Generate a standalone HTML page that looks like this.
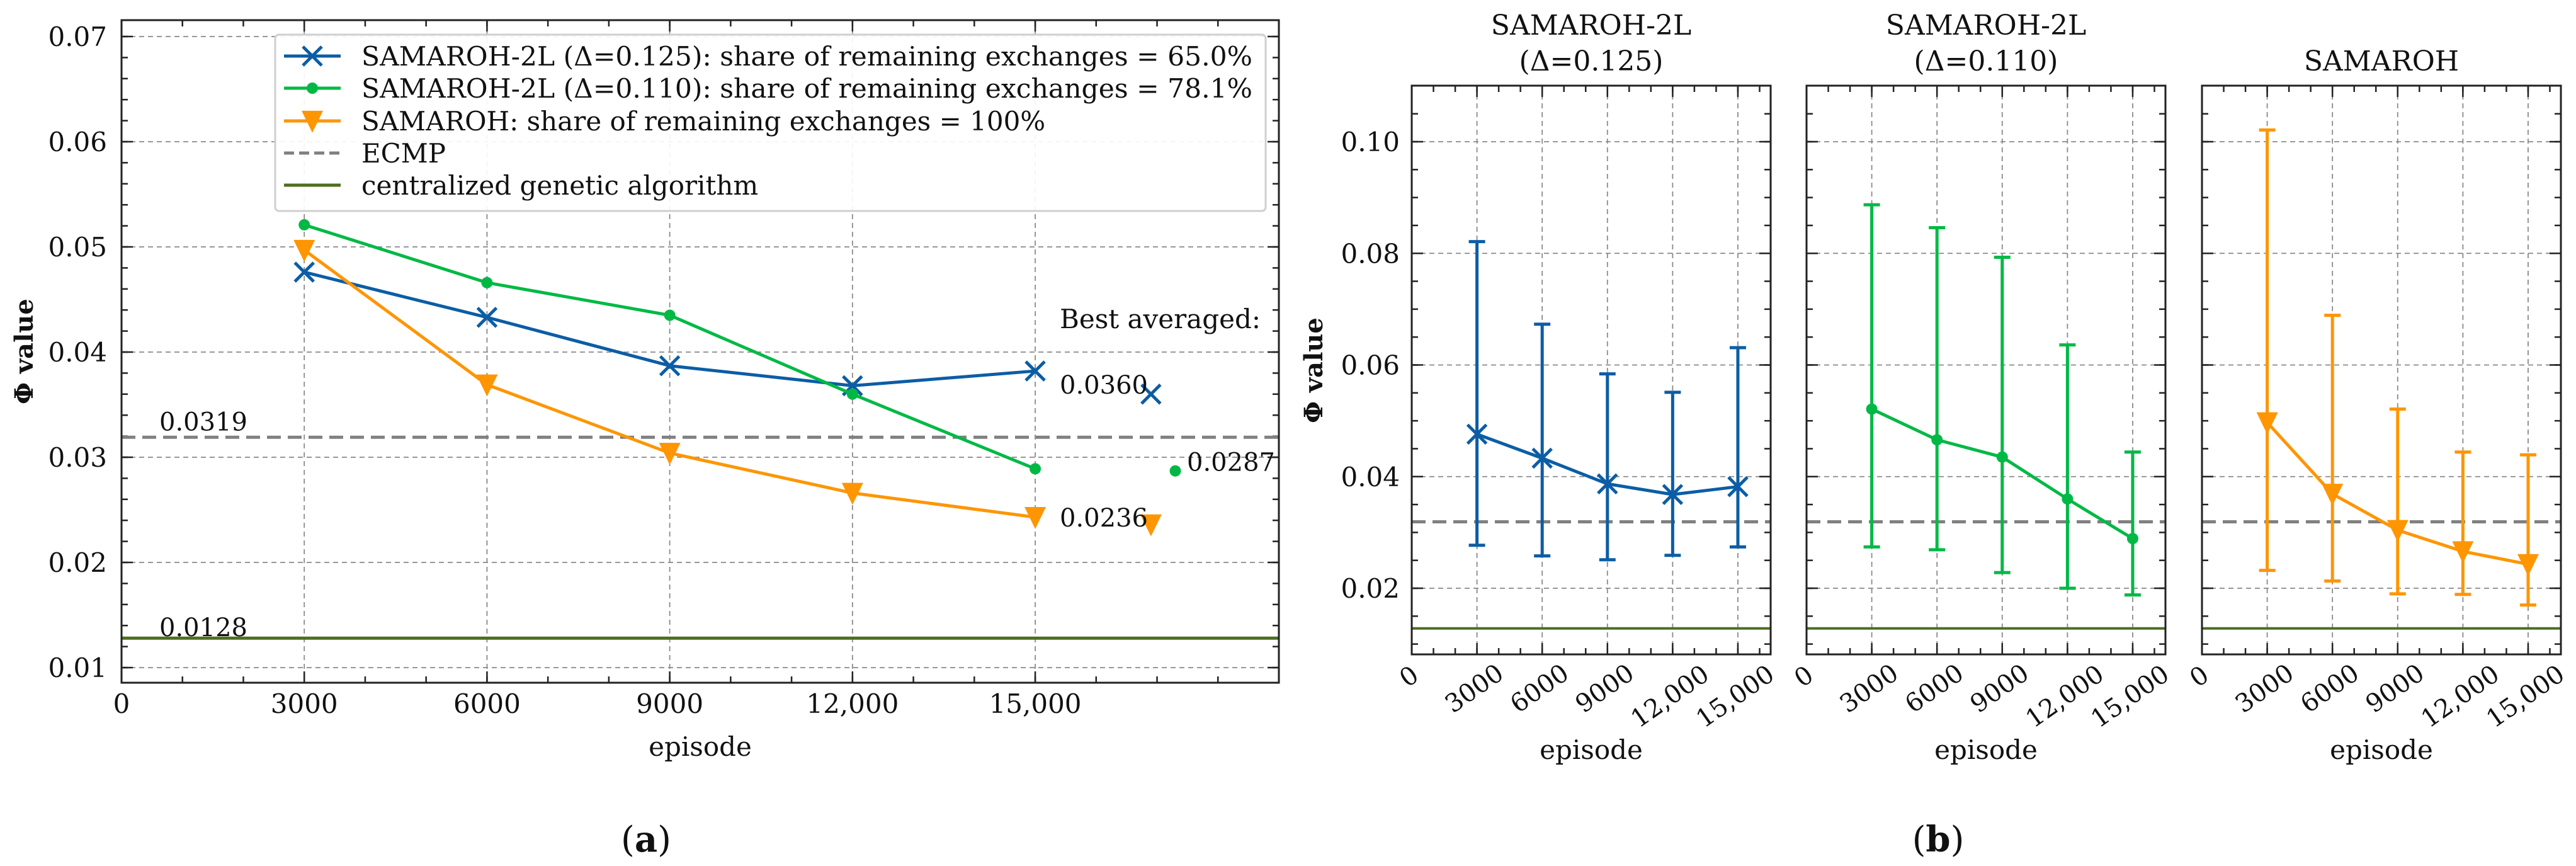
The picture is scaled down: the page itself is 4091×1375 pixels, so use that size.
<!DOCTYPE html>
<html><head><meta charset="utf-8"><style>
html,body{margin:0;padding:0;background:#fff;}
svg{display:block;font-family:"DejaVu Serif","Liberation Serif",serif;}
</style></head><body>
<svg id="fig" width="4091" height="1375" viewBox="0 0 4091 1375" xmlns="http://www.w3.org/2000/svg"></svg>
<script>
// ---------- data ----------
const episodes = [3000, 6000, 9000, 12000, 15000];
const blueMean = [0.0476, 0.0433, 0.0387, 0.0368, 0.0382];
const greenMean = [0.0521, 0.0466, 0.0435, 0.0360, 0.0289];
const orangeMean = [0.0497, 0.0369, 0.0304, 0.0266, 0.0243];
const blueUpper = [0.0821, 0.0673, 0.0584, 0.0551, 0.0631];
const blueLower = [0.0277, 0.0258, 0.0251, 0.0259, 0.0274];
const greenUpper = [0.0887, 0.0846, 0.0793, 0.0636, 0.0444];
const greenLower = [0.0274, 0.0269, 0.0228, 0.0200, 0.0188];
const orangeUpper = [0.1021, 0.0689, 0.0521, 0.0444, 0.0439];
const orangeLower = [0.0232, 0.0213, 0.0190, 0.0189, 0.0170];
const bestEpisodes = [16900, 17300, 16900];
const bestValues = [0.0360, 0.0287, 0.0236];
const bestLabels = ["0.0360", "0.0287", "0.0236"];
const ecmpValue = 0.0319;
const gaValue = 0.0128;
const leftYTicks = [0.01, 0.02, 0.03, 0.04, 0.05, 0.06, 0.07];
const leftYTickLabels = ["0.01", "0.02", "0.03", "0.04", "0.05", "0.06", "0.07"];
const xTicks = [0, 3000, 6000, 9000, 12000, 15000];
const xTickLabels = ["0", "3000", "6000", "9000", "12,000", "15,000"];
const rightYTicks = [0.02, 0.04, 0.06, 0.08, 0.10];
const rightYTickLabels = ["0.02", "0.04", "0.06", "0.08", "0.10"];
const legendLabels = ["SAMAROH-2L (\u0394=0.125): share of remaining exchanges = 65.0%",
  "SAMAROH-2L (\u0394=0.110): share of remaining exchanges = 78.1%",
  "SAMAROH: share of remaining exchanges = 100%", "ECMP", "centralized genetic algorithm"];

const BLUE = "#0C5DA5", GREEN = "#00B945", ORANGE = "#FF9500", GREY = "#808080", OLIVE = "#4E6E1E";
const NS = "http://www.w3.org/2000/svg";
const svg = document.getElementById("fig");
function mk(tag, attrs, parent) {
  const e = document.createElementNS(NS, tag);
  for (const k in attrs) e.setAttribute(k, attrs[k]);
  (parent || svg).appendChild(e);
  return e;
}
function txt(s, attrs, parent) { const t = mk("text", attrs, parent); t.textContent = s; return t; }
function axis(x0, x1, d0, d1) { return v => x0 + (v - d0) / (d1 - d0) * (x1 - x0); }

function marker(kind, cx, cy, color, g, size) {
  let m;
  if (kind === "x") {
    const s = size || 15;
    m = mk("path", {d: `M${cx-s},${cy-s}L${cx+s},${cy+s}M${cx-s},${cy+s}L${cx+s},${cy-s}`, stroke: color, "stroke-width": 5, fill: "none"}, g);
  } else if (kind === "o") {
    m = mk("circle", {cx: cx, cy: cy, r: size || 9, fill: color}, g);
  } else {
    const s = size || 17;
    m = mk("path", {d: `M${cx-s},${cy-s*0.95}L${cx+s},${cy-s*0.95}L${cx},${cy+s*1.1}Z`, fill: color}, g);
  }
  
  
  return m;
}

function frameAndTicks(g, L, R, T, B, xs, ys, xMinor, yMinor, xmaj, ymaj) {
  xmaj.forEach(v => { if (xs(v) > L + 2 && xs(v) < R - 2) mk("line", {x1: xs(v), x2: xs(v), y1: T, y2: B, stroke: "#8a8a8a", "stroke-width": 1.8, "stroke-dasharray": "8,6"}, g); });
  ymaj.forEach(v => mk("line", {x1: L, x2: R, y1: ys(v), y2: ys(v), stroke: "#8a8a8a", "stroke-width": 1.8, "stroke-dasharray": "8,6"}, g));
  xMinor.forEach(v => { const x = xs(v); if (x > L && x < R) { mk("line", {x1: x, x2: x, y1: B, y2: B - 10, stroke: "#222", "stroke-width": 2.5}, g); mk("line", {x1: x, x2: x, y1: T, y2: T + 10, stroke: "#222", "stroke-width": 2.5}, g); } });
  xmaj.forEach(v => { const x = xs(v); if (x > L && x < R) { mk("line", {x1: x, x2: x, y1: B, y2: B - 18, stroke: "#222", "stroke-width": 2.5}, g); mk("line", {x1: x, x2: x, y1: T, y2: T + 18, stroke: "#222", "stroke-width": 2.5}, g); } });
  yMinor.forEach(v => { const y = ys(v); if (y > T && y < B) { mk("line", {x1: L, x2: L + 10, y1: y, y2: y, stroke: "#222", "stroke-width": 2.5}, g); mk("line", {x1: R, x2: R - 10, y1: y, y2: y, stroke: "#222", "stroke-width": 2.5}, g); } });
  ymaj.forEach(v => { const y = ys(v); mk("line", {x1: L, x2: L + 18, y1: y, y2: y, stroke: "#222", "stroke-width": 2.5}, g); mk("line", {x1: R, x2: R - 18, y1: y, y2: y, stroke: "#222", "stroke-width": 2.5}, g); });
}

// ================= LEFT CHART (a) =================
const gA = mk("g", {});


const AL = 193, AR = 2031, AT = 32, AB = 1084;
const ax = axis(AL, AR, 0, 19000);
const ay = axis(559, 893, 0.04, 0.02);
const xMinorA = []; for (let v = 0; v <= 19000; v += 1000) xMinorA.push(v);
const yMinorA = []; for (let v = 0.008; v <= 0.072; v += 0.002) yMinorA.push(+v.toFixed(3));
frameAndTicks(gA, AL, AR, AT, AB, ax, ay, xMinorA, yMinorA, xTicks, leftYTicks);

const ecmpA = mk("line", {x1: AL, x2: AR, y1: ay(ecmpValue), y2: ay(ecmpValue), stroke: GREY, "stroke-width": 5, "stroke-dasharray": "22,11"}, gA);


const gaA = mk("line", {x1: AL, x2: AR, y1: ay(gaValue), y2: ay(gaValue), stroke: OLIVE, "stroke-width": 5}, gA);


const ecmpLab = txt(ecmpValue.toFixed(4), {x: 253, y: ay(ecmpValue) - 11, "font-size": 40, fill: "#111"}, gA);


const gaLab = txt(gaValue.toFixed(4), {x: 253, y: ay(gaValue) - 3, "font-size": 40, fill: "#111"}, gA);



const seriesA = [[blueMean, BLUE, "x", "series-samaroh-2l-0125"], [greenMean, GREEN, "o", "series-samaroh-2l-0110"], [orangeMean, ORANGE, "v", "series-samaroh"]];
seriesA.forEach(([vals, col, mkr, name]) => {
  const g = mk("g", {}, gA);
  
  
  const pts = episodes.map((e, i) => ax(e) + "," + ay(vals[i])).join(" ");
  mk("polyline", {points: pts, fill: "none", stroke: col, "stroke-width": 5, "stroke-linejoin": "round"}, g);
  episodes.forEach((e, i) => marker(mkr, ax(e), ay(vals[i]), col, g));
});
const bestCols = [BLUE, GREEN, ORANGE], bestMk = ["x", "o", "v"];
bestValues.forEach((v, i) => {
  const m = marker(bestMk[i], ax(bestEpisodes[i]), ay(v), bestCols[i], gA, bestMk[i] === "v" ? 17 : (bestMk[i] === "o" ? 9 : 15));
  
});
const bestTxtX = [1683, 1885, 1683];
const bestTxtDy = [-1, 0, 3];
bestLabels.forEach((s, i) => {
  const t = txt(s, {x: bestTxtX[i], y: ay(bestValues[i]) + bestTxtDy[i], "font-size": 40, fill: "#111"}, gA);
  
  
});
const bestTitle = txt("Best averaged:", {x: 1683, y: 521, "font-size": 42, fill: "#111"}, gA);



mk("rect", {x: AL, y: AT, width: AR - AL, height: AB - AT, fill: "none", stroke: "#222", "stroke-width": 3}, gA);

xTicks.forEach((v, i) => {
  const t = txt(xTickLabels[i], {x: ax(v), y: 1132, "font-size": 42, "text-anchor": "middle", fill: "#111"}, gA);
  
  
});
leftYTicks.forEach((v, i) => {
  const t = txt(leftYTickLabels[i], {x: 170, y: ay(v) + 15, "font-size": 42, "text-anchor": "end", fill: "#111"}, gA);
  
  
});
const xlabA = txt("episode", {x: 1112, y: 1200, "font-size": 42, "text-anchor": "middle", fill: "#111"}, gA);


const ylabA = txt("\u03A6 value", {x: 0, y: 0, "font-size": 40, "text-anchor": "middle", "font-weight": "bold", fill: "#111", transform: "translate(52,558) rotate(-90)"}, gA);



const leg = mk("g", {}, gA);


mk("rect", {x: 437, y: 55, width: 1573, height: 280, rx: 6, fill: "#fff", "fill-opacity": 0.9, stroke: "#cfcfcf", "stroke-width": 3}, leg);
const legY = [89, 140, 192, 243, 294];
const legCols = [BLUE, GREEN, ORANGE, GREY, OLIVE];
legendLabels.forEach((s, i) => {
  const g = mk("g", {}, leg);
  
  
  const y = legY[i];
  mk("line", {x1: 451, x2: 541, y1: y, y2: y, stroke: legCols[i], "stroke-width": 5, "stroke-dasharray": i === 3 ? "16,8" : "none"}, g);
  if (i < 3) marker(["x", "o", "v"][i], 496, y, legCols[i], g);
  const t = txt(s, {x: 574, y: y + 15, "font-size": 42, fill: "#111"}, g);
  if (i === 0 || i === 1) { t.setAttribute("textLength", 1415); t.setAttribute("lengthAdjust", "spacingAndGlyphs"); }
});

const labA = txt("", {x: 1026, y: 1352, "font-size": 56, "text-anchor": "middle", fill: "#111"});
labA.innerHTML = '(<tspan font-weight="bold">a</tspan>)';



// ================= RIGHT PANELS (b) =================
const panelLefts = [2242, 2869, 3497];
const panelTitles = [["SAMAROH-2L", "(\u0394=0.125)"], ["SAMAROH-2L", "(\u0394=0.110)"], ["SAMAROH"]];
const panelMeans = [blueMean, greenMean, orangeMean];
const panelUpper = [blueUpper, greenUpper, orangeUpper];
const panelLower = [blueLower, greenLower, orangeLower];
const panelCols = [BLUE, GREEN, ORANGE];
const panelMk = ["x", "o", "v"];
const panelNames = ["panel-samaroh-2l-0125", "panel-samaroh-2l-0110", "panel-samaroh"];
const BT = 136, BB = 1039, PW = 570;
const by = axis(225, 934, 0.10, 0.02);
const yMinorB = []; for (let v = 0.01; v <= 0.11; v += 0.005) yMinorB.push(+v.toFixed(3));
const xMinorB = []; for (let v = 0; v <= 16500; v += 1000) xMinorB.push(v);

panelLefts.forEach((L, p) => {
  const g = mk("g", {});
  
  
  const R = L + PW;
  const bx = axis(L, R, 0, 16507);
  frameAndTicks(g, L, R, BT, BB, bx, by, xMinorB, yMinorB, xTicks, rightYTicks);
  const e = mk("line", {x1: L, x2: R, y1: by(ecmpValue), y2: by(ecmpValue), stroke: GREY, "stroke-width": 5, "stroke-dasharray": "22,11"}, g);
  
  
  const ga = mk("line", {x1: L, x2: R, y1: by(gaValue), y2: by(gaValue), stroke: OLIVE, "stroke-width": 4}, g);
  
  
  const col = panelCols[p];
  episodes.forEach((ep, i) => {
    const x = bx(ep), yu = by(panelUpper[p][i]), yl = by(panelLower[p][i]);
    const eb = mk("path", {d: `M${x},${yu}L${x},${yl}M${x-13},${yu}L${x+13},${yu}M${x-13},${yl}L${x+13},${yl}`, stroke: col, "stroke-width": 5, fill: "none"}, g);
    
    
  });
  const ln = mk("polyline", {points: episodes.map((ep, i) => bx(ep) + "," + by(panelMeans[p][i])).join(" "), fill: "none", stroke: col, "stroke-width": 5, "stroke-linejoin": "round"}, g);
  
  
  episodes.forEach((ep, i) => marker(panelMk[p], bx(ep), by(panelMeans[p][i]), col, g));
  mk("rect", {x: L, y: BT, width: PW, height: BB - BT, fill: "none", stroke: "#222", "stroke-width": 3}, g);
  xTicks.forEach((v, i) => {
    const s = xTickLabels[i];
    const w = s.length * 22;
    const cy = 1056 + (w * Math.sin(35 * Math.PI / 180) + 30 * Math.cos(35 * Math.PI / 180)) / 2;
    const t = txt(s, {x: 0, y: 0, "font-size": 40, "text-anchor": "middle", "dominant-baseline": "central", fill: "#111", transform: `translate(${bx(v) - 4},${cy}) rotate(-35)`}, g);
    
    
  });
  const xl = txt("episode", {x: L + PW / 2, y: 1205, "font-size": 42, "text-anchor": "middle", fill: "#111"}, g);
  
  
  const lines = panelTitles[p];
  lines.forEach((s, k) => {
    const yy = lines.length === 1 ? 112 : (k === 0 ? 55 : 112);
    const t = txt(s, {x: L + PW / 2, y: yy, "font-size": 44, "text-anchor": "middle", fill: "#111"}, g);
    
    
  });
  if (p === 0) {
    rightYTicks.forEach((v, i) => {
      const t = txt(rightYTickLabels[i], {x: 2223, y: by(v) + 15, "font-size": 42, "text-anchor": "end", fill: "#111"}, g);
      
      
    });
    const yl = txt("\u03A6 value", {x: 0, y: 0, "font-size": 40, "text-anchor": "middle", "font-weight": "bold", fill: "#111", transform: "translate(2100,588) rotate(-90)"}, g);
    
    
  }
});

const labB = txt("", {x: 3078, y: 1352, "font-size": 56, "text-anchor": "middle", fill: "#111"});
labB.innerHTML = '(<tspan font-weight="bold">b</tspan>)';


</script>
</body></html>
